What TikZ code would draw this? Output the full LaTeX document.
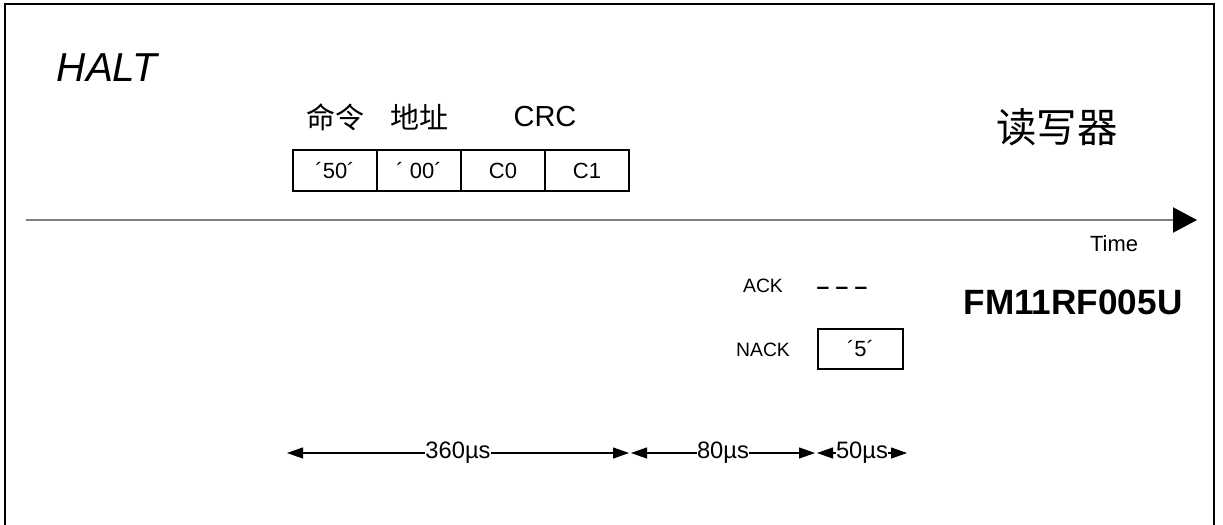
\documentclass[tikz,border=0pt]{standalone}
\usepackage{fontspec}
\setmainfont{Liberation Sans}
\newfontfamily\cjk{Noto Sans CJK SC}
\usetikzlibrary{positioning}
\usetikzlibrary{arrows.meta}

\begin{document}
\begin{tikzpicture}[
						cell/.style={rectangle, draw=black, line width=0.6pt, outer sep=0pt, minimum width=1.68cm, minimum height=0.82cm, inner sep=0pt, font=\fontsize{12.5}{14}\selectfont},
						headlabel/.style={inner sep=0pt, font=\fontsize{16.5}{18}\selectfont},
						small/.style={inner sep=0pt, font=\fontsize{11}{13}\selectfont},
						span/.style={line width=0.6pt, {Triangle[length=3.2mm, width=2.2mm]}-{Triangle[length=3.2mm, width=2.2mm]}},
						spanlabel/.style={fill=white, inner sep=0pt, font=\fontsize{13.5}{16}\selectfont}
					]
					\useasboundingbox (0,0) rectangle (24.46,-10.48);
					% frame, open at the bottom
					\draw[line width=1.1pt] (0.1,-10.6) -- (0.1,-0.08) -- (24.28,-0.08) -- (24.28,-10.6);
					\node[inner sep=0pt, font=\fontsize{23}{26}\selectfont\itshape] (title) at (2.14,-1.36) {HALT};
					\node[inner sep=0pt, font=\fontsize{23}{26}\selectfont\cjk] (reader) at (21.14,-2.54) {读写器};
					% command frame
					\node[cell] (cell1) at (6.7,-3.41) {´50´};
					\node[cell] (cell2) [right=0pt of cell1] {´ 00´};
					\node[cell] (cell3) [right=0pt of cell2] {C0};
					\node[cell] (cell4) [right=0pt of cell3] {C1};
					\node[headlabel] (cmdlabel) at ([yshift=0.66cm]cell1.north) {\cjk 命令};
					\node[headlabel] (addrlabel) at ([yshift=0.66cm]cell2.north) {\cjk 地址};
					\node[headlabel] (crclabel) at ([yshift=0.66cm]cell3.north east) {CRC};
					% time axis
					\coordinate (axisstart) at (0.52,-4.4);
					\coordinate (axisend) at (23.94,-4.4);
					\draw[line width=1.3pt, black!50, -{Triangle[length=4.8mm, width=5mm, color=black, fill=black]}] (axisstart) -- (axisend);
					\node[inner sep=0pt, font=\fontsize{12.5}{14}\selectfont] (time) at (22.28,-4.88) {Time};
					% card answer
					\node[small] (ack) at (15.26,-5.72) {ACK};
					\node[inner sep=0pt, font=\fontsize{13}{15}\selectfont\bfseries] (ackdash) at (16.84,-5.82) {– – –};
					\node[small] (nack) at (15.26,-7.0) {NACK};
					\node[cell, minimum width=1.7cm, minimum height=0.8cm] (answer) at (17.21,-6.98) {´5´};
					\node[inner sep=0pt, font=\fontsize{20}{22}\selectfont\bfseries] (chip) at (21.46,-6.04) {FM11RF005U};
					% timing
					\coordinate (t0) at (5.74,-9.06);
					\coordinate (t1) at (12.58,-9.06);
					\coordinate (t2) at (16.30,-9.06);
					\coordinate (t3) at (18.14,-9.06);
					\begin{scope}[span]
					\draw (t0) -- node[spanlabel] {360µs} (t1);
					\draw ([xshift=0.04cm]t1) -- node[spanlabel] {80µs} (t2);
					\draw ([xshift=0.04cm]t2) -- node[spanlabel] {50µs} (t3);
					\end{scope}
					\end{tikzpicture}
\end{document}
